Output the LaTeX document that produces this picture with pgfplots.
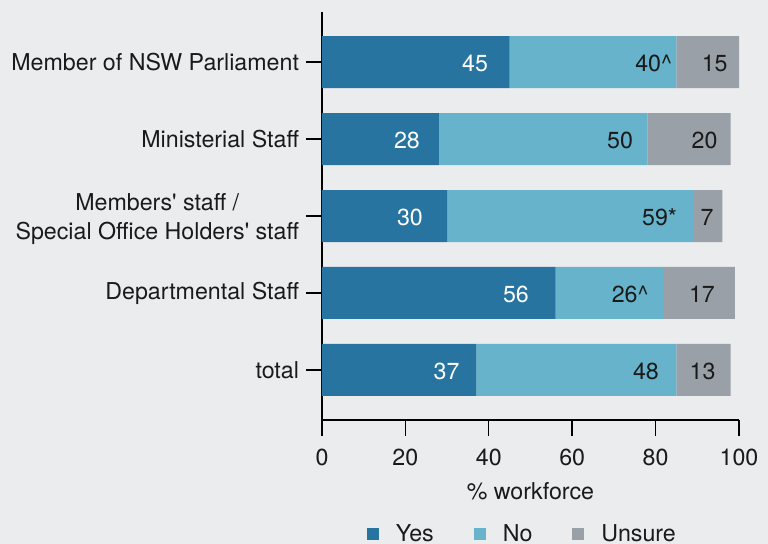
\documentclass[border=0pt]{standalone}
\usepackage{pgfplots}
\usepackage{pgfplotstable}
\pgfplotsset{compat=1.18}
\usepackage{fontspec}
\setmainfont{TeX Gyre Heros}[Ligatures=TeXOff]
\definecolor{bg}{HTML}{EBECEE}
\definecolor{cyes}{HTML}{2874A0}
\definecolor{cno}{HTML}{67B3CB}
\definecolor{cun}{HTML}{9AA0A7}
\definecolor{txt}{HTML}{1A1A1A}
% c = category (0=total ... 4=Member of NSW Parliament), v = value, l = label,
% s = label shift from the segment centre (bp)
\pgfplotstableread{
c v l s
0 37 37 23.7
1 56 56 38.6
2 30 30 12.7
3 28 28 13.3
4 45 45 29.6
}\yes
\pgfplotstableread{
c v l s
0 48 48 34.8
1 26 {26\textasciicircum} 10.2
2 59 {59*} 44.7
3 50 50 38.5
4 40 {40\textasciicircum} 30.3
}\no
\pgfplotstableread{
c v l s
0 13 13 -0.5
1 17 17 1.3
2 7 7 -0.3
3 20 20 7.8
4 15 15 3.5
}\unsure
\begin{document}
\begin{tikzpicture}[font=\fontsize{11.65}{15}\selectfont]
\fill[bg] (-161bp,-62bp) rectangle (223bp,210bp);
\begin{axis}[
  at={(0,0)}, anchor=south west,
  scale only axis, width=208.5bp, height=204bp,
  xbar stacked, bar width=26bp,
  xmin=0, xmax=100, ymin=-0.65, ymax=4.65,
  axis x line*=bottom, axis y line*=left,
  axis line style={-, line width=0.7bp, black},
  tick align=outside, major tick length=8bp,
  tick style={line width=0.7bp, black},
  xtick={0,20,...,100}, ytick={0,1,2,3,4},
  yticklabels={total, Departmental Staff, {Members' staff /\\Special Office Holders' staff}, Ministerial Staff, Member of NSW Parliament},
  yticklabel style={align=center, text=txt, font=\fontsize{11.65}{14.7}\selectfont, yshift={-1.6*(\ticknum==2)}},
  xticklabel style={text=txt, yshift=-3bp},
  /pgf/number format/assume math mode=true,
  xlabel={\% workforce},
  xlabel style={text=txt, yshift=-1.5bp},
  legend style={at={(0.483,-0.28)}, anchor=center, draw=none, fill=none,
    legend columns=3, text=txt,
    /tikz/every even column/.append style={column sep=18bp},
    /tikz/every odd column/.append style={column sep=6.5bp}},
  legend image code/.code={\fill[#1] (0bp,-3bp) rectangle (6bp,3bp);},
  nodes near coords,
  point meta=explicit symbolic,
  visualization depends on={\thisrow{s} \as \sh},
  every node near coord/.append style={anchor=center, xshift=\sh bp, yshift=-0.7bp, text=txt},
]
\addplot[fill=cyes, draw=none, every node near coord/.append style={text=white}] table[x=v, y=c, meta=l] {\yes};
\addplot[fill=cno, draw=none] table[x=v, y=c, meta=l] {\no};
\addplot[fill=cun, draw=none] table[x=v, y=c, meta=l] {\unsure};
\legend{Yes,No,Unsure}
\end{axis}
\pgfresetboundingbox
\path[use as bounding box] (-161bp,-62bp) rectangle (223bp,210bp);
\end{tikzpicture}
\end{document}
